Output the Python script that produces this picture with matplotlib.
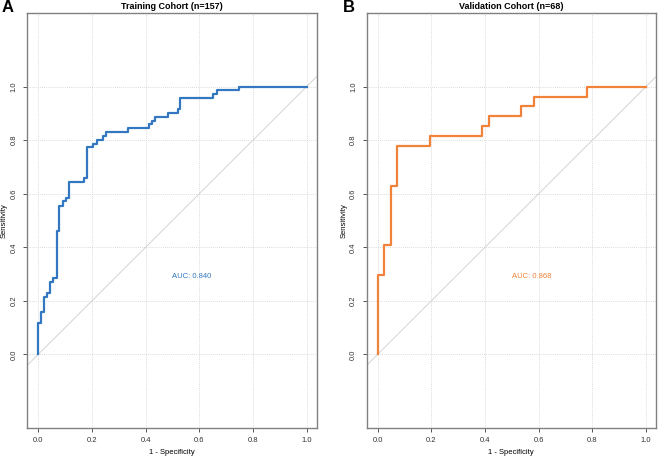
import matplotlib.pyplot as plt
import numpy as np

plt.rcParams['font.family'] = ['Liberation Sans', 'DejaVu Sans']

# ROC corner points: at each fpr the curve rises to tpr
train_fpr = [0, 0.009, 0.022, 0.031, 0.043, 0.056, 0.068, 0.078, 0.091, 0.102,
             0.114, 0.170, 0.183, 0.205, 0.217, 0.240, 0.251, 0.333, 0.412,
             0.424, 0.435, 0.482, 0.519, 0.528, 0.652, 0.667, 0.748, 1.0]
train_tpr = [0.116, 0.160, 0.216, 0.231, 0.272, 0.287, 0.460, 0.556, 0.573,
             0.585, 0.644, 0.659, 0.773, 0.785, 0.800, 0.815, 0.830, 0.846,
             0.860, 0.873, 0.888, 0.903, 0.918, 0.959, 0.971, 0.987, 1.0, 1.0]

valid_fpr = [0, 0.024, 0.048, 0.073, 0.195, 0.390, 0.414, 0.535, 0.584, 0.780, 1.0]
valid_tpr = [0.296, 0.407, 0.630, 0.778, 0.815, 0.852, 0.889, 0.926, 0.963, 1.0, 1.0]

titles = ['Training Cohort (n=157)', 'Validation Cohort (n=68)']
letters = ['A', 'B']
auc_labels = ['AUC: 0.840', 'AUC: 0.868']
colors = ['#3377C0', '#F0823A']
ticks = [0.0, 0.2, 0.4, 0.6, 0.8, 1.0]


def staircase(fpr, tpr):
    xs, ys = [0.0], [0.0]
    prev = 0.0
    for x, y in zip(fpr, tpr):
        xs += [x, x]
        ys += [prev, y]
        prev = y
    return xs, ys


fig = plt.figure(figsize=(6.58, 4.57), dpi=100)
lefts = [27.3 / 658, 366.7 / 658]
width = 289.2 / 658
bottom = 1 - 427.7 / 457
height = 414.4 / 457

data = [(train_fpr, train_tpr), (valid_fpr, valid_tpr)]
for i in range(2):
    ax = fig.add_axes([lefts[i], bottom, width, height])
    ax.set_xlim(-0.041, 1.037)
    ax.set_ylim(-0.274, 1.274)
    for t in ticks:
        ax.axvline(t, color='#cfcfcf', lw=0.6, ls=(0, (1, 1.5)), zorder=0)
        ax.axhline(t, color='#cfcfcf', lw=0.6, ls=(0, (1, 1.5)), zorder=0)
    ax.axline((0, 0), (1, 1), color='#d4d4d4', lw=0.7, zorder=1)
    xs, ys = staircase(*data[i])
    ax.plot(xs, ys, color=colors[i], lw=1.6, zorder=3)
    ax.text(0.5, 0.29, auc_labels[i], color=colors[i], fontsize=5.5,
            ha='left', va='center')
    ax.set_xticks(ticks)
    ax.set_yticks(ticks)
    ax.set_xticklabels(['%.1f' % t for t in ticks])
    ax.set_yticklabels(['%.1f' % t for t in ticks], rotation=90, va='center')
    ax.tick_params(labelsize=5.5, length=3, width=0.7, color='#555555',
                   labelcolor='#333333', pad=4)
    for s in ax.spines.values():
        s.set_color('#808080')
        s.set_linewidth(1.0)
    ax.set_xlabel('1 - Specificity', fontsize=5.5, labelpad=3)
    ax.set_ylabel('Sensitivity', fontsize=5.5, labelpad=2)
    ax.set_title(titles[i], fontsize=6.5, fontweight='bold', pad=3)

fig.text(2 / 658, 1 - 8 / 457, 'A', fontsize=12, fontweight='bold', va='center')
fig.text(343 / 658, 1 - 8 / 457, 'B', fontsize=12, fontweight='bold', va='center')

plt.savefig('out.png', dpi=100)
